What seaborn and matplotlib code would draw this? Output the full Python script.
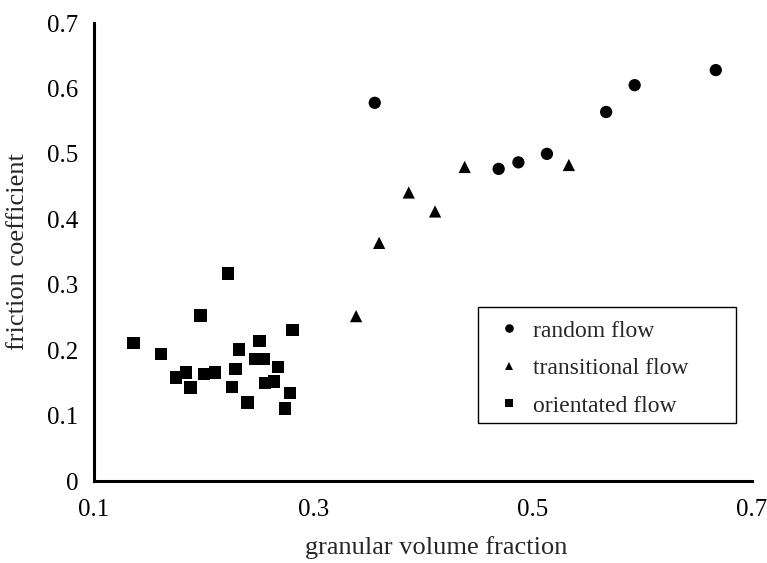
import matplotlib
matplotlib.use("Agg")
import matplotlib.pyplot as plt
from matplotlib.patches import Rectangle
import seaborn as sns
import pandas as pd

# ---- data ----
random_x = [0.356, 0.469, 0.487, 0.513, 0.567, 0.593, 0.667]
random_y = [0.578, 0.477, 0.487, 0.500, 0.564, 0.605, 0.628]

trans_x = [0.339, 0.360, 0.387, 0.411, 0.438, 0.533]
trans_y = [0.252, 0.364, 0.441, 0.412, 0.480, 0.483]

orient_x = [0.136, 0.161, 0.175, 0.184, 0.188, 0.197, 0.200, 0.210,
            0.222, 0.226, 0.229, 0.232, 0.240, 0.247, 0.251, 0.255,
            0.256, 0.264, 0.268, 0.274, 0.279, 0.281]
orient_y = [0.211, 0.194, 0.158, 0.166, 0.143, 0.253, 0.163, 0.166,
            0.317, 0.144, 0.171, 0.201, 0.120, 0.186, 0.214, 0.186,
            0.150, 0.152, 0.174, 0.111, 0.135, 0.231]

labels = ["random flow", "transitional flow", "orientated flow"]
x_ticks = [0.1, 0.3, 0.5, 0.7]
x_tick_labels = ["0.1", "0.3", "0.5", "0.7"]
y_ticks = [0, 0.1, 0.2, 0.3, 0.4, 0.5, 0.6, 0.7]
y_tick_labels = ["0", "0.1", "0.2", "0.3", "0.4", "0.5", "0.6", "0.7"]

df = pd.DataFrame({
    "x": random_x + trans_x + orient_x,
    "y": random_y + trans_y + orient_y,
    "flow": [labels[0]] * len(random_x) + [labels[1]] * len(trans_x) + [labels[2]] * len(orient_x),
})

sns.set_style("white")
plt.rcParams["font.family"] = ["Liberation Serif", "DejaVu Serif"]

W, H = 767, 563
L, R, T, B = 94, 752, 23, 481
fig = plt.figure(figsize=(W / 100, H / 100), dpi=100)
ax = fig.add_axes([L / W, 1 - B / H, (R - L) / W, (B - T) / H])

def ax_x(px):
    return (px - L) / (R - L)

def ax_y(py):
    return (B - py) / (B - T)

sns.scatterplot(data=df, x="x", y="y", style="flow", hue="flow",
                markers={labels[0]: "o", labels[1]: "^", labels[2]: "s"},
                palette={l: "black" for l in labels},
                s=78, linewidth=0, edgecolor="black", ax=ax, legend=True)

ax.set_xlim(0.1, 0.7)
ax.set_ylim(0, 0.7)
ax.set_xticks(x_ticks)
ax.set_xticklabels(x_tick_labels)
ax.set_yticks(y_ticks)
ax.set_yticklabels(y_tick_labels)

for side in ["top", "right"]:
    ax.spines[side].set_visible(False)
for side in ["left", "bottom"]:
    ax.spines[side].set_linewidth(2.2)
    ax.spines[side].set_color("black")

ax.tick_params(axis="both", direction="inout", length=12, width=2, colors="black",
               labelsize=18)
ax.tick_params(axis="x", pad=7)
ax.tick_params(axis="y", pad=5)

ax.set_xlabel("granular volume fraction", fontsize=19)
ax.set_ylabel("friction coefficient", fontsize=19)
ax.xaxis.label.set_verticalalignment("center")
ax.yaxis.label.set_verticalalignment("center")
ax.xaxis.set_label_coords(ax_x(436), ax_y(548))
ax.yaxis.set_label_coords(ax_x(18), 0.5)

handles, lbls = ax.get_legend_handles_labels()
fs = 17
fpx = fs * 100 / 72
leg = ax.legend(handles, lbls, loc="upper left",
                bbox_to_anchor=(ax_x(497), ax_y(320)),
                frameon=False, fontsize=fs,
                handlelength=1.0, handletextpad=12.4 / fpx,
                labelspacing=0.68, borderpad=0, borderaxespad=0,
                markerscale=0.7)
ax.add_patch(Rectangle((ax_x(478), ax_y(423)), ax_x(736) - ax_x(478), ax_y(307) - ax_y(423),
                       transform=ax.transAxes, fill=False, edgecolor="black",
                       linewidth=1.0, clip_on=False, zorder=5))

fig.savefig("out.png", dpi=100)
